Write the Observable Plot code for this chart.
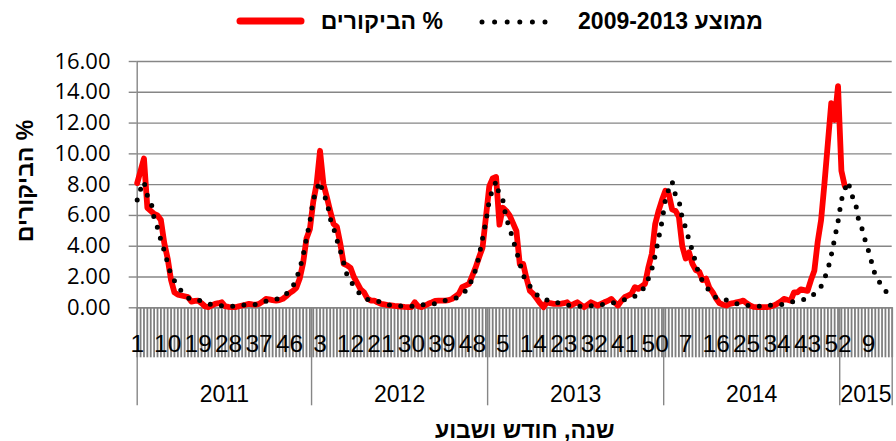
<!DOCTYPE html>
<html>
<head>
<meta charset="utf-8">
<script src="https://cdn.jsdelivr.net/npm/d3@7"></script>
<script src="https://cdn.jsdelivr.net/npm/@observablehq/plot@0.6"></script>
<style>
  html, body { margin: 0; padding: 0; background: #fff; }
  #wrap { position: relative; width: 896px; height: 441px; overflow: hidden; font-family: "Liberation Sans", Arial, sans-serif; }
  #chart { position: absolute; left: 0; top: 42px; }
  .lg { position: absolute; font-weight: bold; font-size: 23px; line-height: 42px; top: 0; white-space: nowrap; direction: rtl; }
  #ytitle { position: absolute; left: 25px; top: 181px; transform: translate(-50%, -50%) rotate(-90deg); font-weight: bold; font-size: 23px; white-space: nowrap; direction: rtl; }
  #xtitle { position: absolute; left: 524.7px; top: 430px; transform: translate(-50%, -50%); font-weight: bold; font-size: 23px; white-space: nowrap; direction: rtl; }
</style>
</head>
<body>
<div id="wrap">
  <div id="legend"></div>
  <div id="chart"></div>
  <div id="ytitle"></div>
  <div id="xtitle"></div>
</div>
<script>
// ---- data ----
const years = [2011, 2012, 2013, 2014, 2015];
const weeksInYear = [52, 52, 52, 52, 16];
const seriesVisits = "% הביקורים";
const seriesAvg = "ממוצע 2009-2013";
const yAxisTitle = "% הביקורים";
const xAxisTitle = "שנה, חודש ושבוע";
const yTicks = [0, 2, 4, 6, 8, 10, 12, 14, 16];
const weekLabelStep = 9;

const visits2011 = [8.1, 8.9, 9.7, 6.5, 6.3, 6.1, 6.0, 5.7, 4.2, 3.2,
  1.8, 1.0, 0.85, 0.8, 0.75, 0.7, 0.4, 0.45, 0.47, 0.3,
  0.1, 0.04, 0.15, 0.25, 0.3, 0.36, 0.1, 0.06, 0.04, 0.04,
  0.1, 0.15, 0.2, 0.26, 0.22, 0.2, 0.25, 0.4, 0.58, 0.55,
  0.5, 0.47, 0.5, 0.58, 0.75, 0.95, 1.1, 1.3, 1.9, 2.9,
  4.5, 5.1];
const visits2012 = [6.9, 8.05, 10.2, 8.05, 7.2, 6.3, 5.45, 5.25, 4.15, 2.85,
  2.75, 2.6, 2.0, 1.6, 1.2, 1.0, 0.6, 0.47, 0.47, 0.35,
  0.26, 0.22, 0.18, 0.15, 0.12, 0.1, 0.08, 0.06, 0.05, 0.04,
  0.36, 0.1, 0.04, 0.15, 0.26, 0.35, 0.45, 0.47, 0.47, 0.47,
  0.5, 0.58, 0.75, 0.91, 1.34, 1.45, 1.56, 2.1, 2.64, 3.3,
  3.9, 5.9];
const visits2013 = [7.9, 8.4, 8.5, 5.4, 6.5, 6.3, 6.0, 5.5, 5.0, 2.85,
  2.85, 1.9, 1.1, 0.9, 0.6, 0.3, 0.04, 0.36, 0.3, 0.26,
  0.25, 0.26, 0.3, 0.36, 0.15, 0.25, 0.36, 0.2, 0.04, 0.2,
  0.36, 0.25, 0.15, 0.25, 0.36, 0.45, 0.58, 0.35, 0.15, 0.45,
  0.69, 0.8, 0.91, 1.34, 1.23, 1.4, 1.56, 2.64, 3.5, 5.45,
  6.3, 7.0];
const visits2014 = [7.6, 7.4, 6.4, 6.3, 5.9, 4.0, 3.2, 3.6, 2.85, 2.45,
  2.35, 1.8, 1.9, 1.3, 1.0, 0.6, 0.3, 0.2, 0.15, 0.25,
  0.3, 0.36, 0.4, 0.47, 0.3, 0.15, 0.06, 0.04, 0.04, 0.04,
  0.05, 0.08, 0.15, 0.26, 0.4, 0.58, 0.52, 0.47, 1.0, 1.0,
  1.2, 1.15, 1.1, 1.8, 2.4, 4.3, 5.7, 8.1, 10.7, 13.3,
  12.2, 14.4];
const visits2015 = [8.9, 7.9];
const visitsByYear = [visits2011, visits2012, visits2013, visits2014, visits2015];

// average 2009-2013 by week of year
const avgWeekly = [7.0, 7.7, 8.2, 7.3, 7.0, 5.8, 5.2, 4.4, 3.7, 2.9,
  2.1, 1.75, 1.4, 1.1, 0.85, 0.65, 0.55, 0.5, 0.5, 0.45,
  0.35, 0.28, 0.2, 0.17, 0.15, 0.13, 0.12, 0.1, 0.1, 0.09,
  0.12, 0.17, 0.2, 0.21, 0.22, 0.22, 0.28, 0.35, 0.42, 0.48,
  0.52, 0.55, 0.6, 0.75, 0.9, 1.1, 1.4, 1.9, 2.5, 3.4,
  4.5, 5.6];

// ---- build table ----
const cats = [];
years.forEach((yr, k) => {
  for (let w = 1; w <= weeksInYear[k]; w++) {
    cats.push({i: cats.length, year: yr, week: w, visits: visitsByYear[k][w - 1], avg: avgWeekly[w - 1]});
  }
});
const lastIndex = cats.length - 1;
const yearStart = years.map(y => cats.find(d => d.year === y).i);
const yearEnd = years.map(y => cats.filter(d => d.year === y).pop().i);
const yearEdges = [0, ...yearStart.slice(1).map(s => s - 0.5), lastIndex];
const yearMids = years.map((y, k) => ((k === 0 ? 0 : yearStart[k] - 0.5) + (k === years.length - 1 ? lastIndex : yearEnd[k] + 0.5)) / 2);
const labelled = cats.filter(d => d.i % weekLabelStep === 0).map(d => d.i);

const gray = "#868686";
const chart = Plot.plot({
  width: 896,
  height: 370,
  marginLeft: 136.7,
  marginRight: 4.3,
  marginTop: 19,
  marginBottom: 104.7,
  style: {fontFamily: "'Liberation Sans', Arial, sans-serif", overflow: "visible", background: "transparent", color: "black"},
  x: {domain: [0, lastIndex], axis: null},
  y: {domain: [0, 16], axis: null},
  marks: [
    Plot.gridY(yTicks, {stroke: gray, strokeOpacity: 1, strokeWidth: 1.4}),
    Plot.axisY(yTicks, {tickSize: 8, tickPadding: 18.7, tickFormat: d => d.toFixed(2), fontSize: 22, fontFamily: "'Open Sans', sans-serif", stroke: gray, strokeWidth: 1.4, fill: "black", label: null}),
    Plot.axisX(cats.map(d => d.i), {tickSize: 50, tickFormat: () => "", stroke: "#7f7f7f", strokeWidth: 1.8, label: null}),
    Plot.axisX(yearEdges, {tickSize: 98, tickFormat: () => "", stroke: gray, strokeWidth: 1.4, label: null}),
    Plot.axisX(labelled, {tickSize: 0, tickPadding: 27, tickFormat: i => String(cats[i].week), fontSize: 24.5, fill: "black", label: null}),
    Plot.axisX(yearMids, {tickSize: 0, tickPadding: 78, tickFormat: d => String(years[yearMids.indexOf(d)]), fontSize: 23, fill: "black", label: null}),
    Plot.ruleX([0], {y1: 0, y2: 16, stroke: gray, strokeWidth: 1.4}),
    Plot.ruleY([0], {stroke: gray, strokeWidth: 1.4}),
    Plot.line(cats.filter(d => d.visits != null), {x: "i", y: "visits", stroke: "#ff0000", strokeWidth: 5.8, strokeLinejoin: "round", strokeLinecap: "round"}),
    Plot.line(cats, {x: "i", y: "avg", stroke: "black", strokeWidth: 5, strokeDasharray: "0 11.3", strokeLinecap: "round"})
  ]
});
document.getElementById("chart").appendChild(chart);

// ---- legend & titles ----
const legend = document.getElementById("legend");
legend.innerHTML = `
  <svg style="position:absolute;left:0;top:0" width="896" height="42">
    <line x1="240" y1="21" x2="301" y2="21" stroke="#ff0000" stroke-width="7" stroke-linecap="round"/>
    <line x1="482" y1="22" x2="546" y2="22" stroke="black" stroke-width="5" stroke-dasharray="0 12.6" stroke-linecap="round"/>
  </svg>
  <div class="lg" style="right:${896 - 443}px">${seriesVisits}</div>
  <div class="lg" style="right:${896 - 763}px">${seriesAvg}</div>`;
document.getElementById("ytitle").textContent = yAxisTitle;
document.getElementById("xtitle").textContent = xAxisTitle;
</script>
</body>
</html>
